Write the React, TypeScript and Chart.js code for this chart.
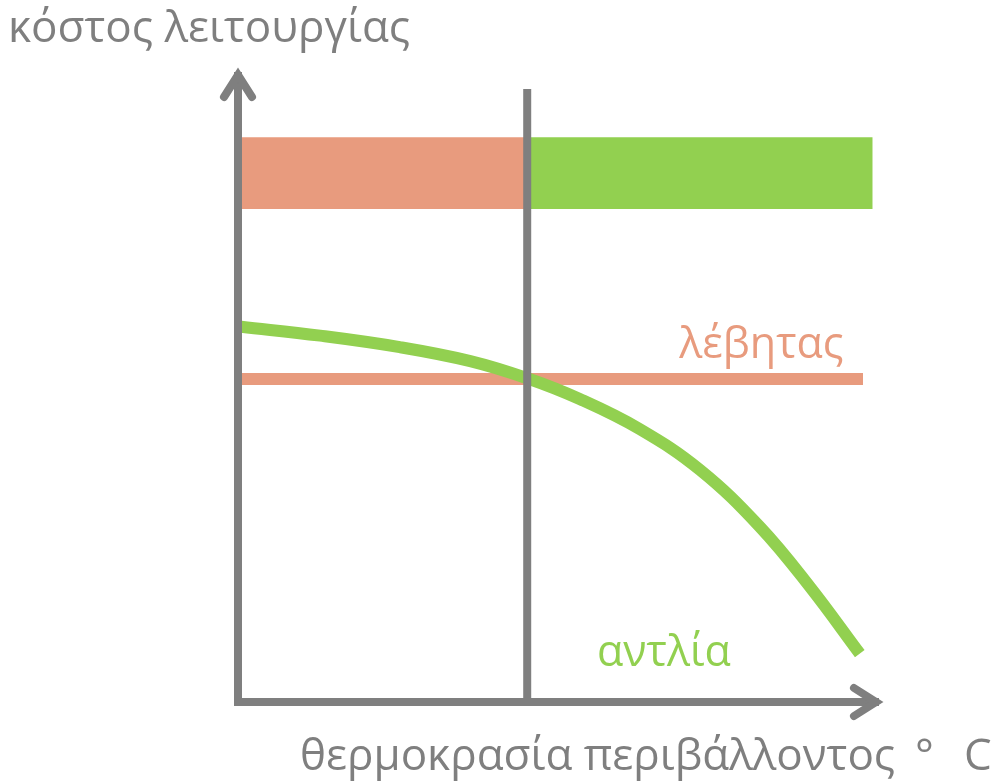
import React, { useEffect, useRef } from 'react';
import { Chart, registerables } from 'chart.js';

Chart.register(...registerables);

// ---- text ----
const yTitle = 'κόστος λειτουργίας';
const xTitleMain = 'θερμοκρασία περιβάλλοντος';
const xTitleDeg = '°';
const xTitleUnit = 'C';
const boilerLabel = 'λέβητας';
const pumpLabel = 'αντλία';

// ---- data (abstract units 0..100 on both axes) ----
const balanceTemp = 44.7;
const dividerTop = 96.4;
const bandHigh = 88.8;
const bandLow = 77.5;
const boilerBandX = [0.5, 44.7];
const pumpBandX = [44.7, 98.1];
const boilerLineX = [0.5, 96.6];
const boilerCost = 50.8;
const pumpTemps = [0.5, 12.7, 25.0, 35.9, 44.7, 52.9, 62.1, 71.4, 80.7, 88.4, 96.1];
const pumpCost = [59.0, 57.6, 55.8, 53.6, 50.9, 47.6, 42.9, 36.5, 27.5, 18.1, 7.6];

// ---- styles ----
const GRAY = '#7f7f7f';
const SALMON = '#e89b7e';
const GREEN = '#92d050';
const FONT = '"Open Sans", "DejaVu Sans", sans-serif';

const decorPlugin = {
  id: 'decor',
  afterDatasetsDraw(chart: any) {
    const { ctx, scales } = chart;
    const xs = scales.x;
    const ys = scales.y;
    const x0 = xs.getPixelForValue(0);
    const y0 = ys.getPixelForValue(0);
    const xEnd = xs.getPixelForValue(100);
    const yEnd = ys.getPixelForValue(100);
    ctx.save();
    ctx.strokeStyle = GRAY;
    ctx.lineWidth = 8;
    ctx.lineCap = 'butt';
    ctx.lineJoin = 'miter';
    ctx.beginPath();
    ctx.moveTo(x0, yEnd + 6);
    ctx.lineTo(x0, y0);
    ctx.lineTo(xEnd - 6, y0);
    ctx.stroke();
    // arrow heads
    ctx.lineCap = 'round';
    ctx.beginPath();
    ctx.moveTo(x0 - 14, yEnd + 31);
    ctx.lineTo(x0, yEnd + 9);
    ctx.lineTo(x0 + 14, yEnd + 31);
    ctx.stroke();
    ctx.beginPath();
    ctx.moveTo(xEnd - 31, y0 - 14);
    ctx.lineTo(xEnd - 9, y0);
    ctx.lineTo(xEnd - 31, y0 + 14);
    ctx.stroke();

    // titles
    ctx.fillStyle = GRAY;
    ctx.textBaseline = 'alphabetic';
    ctx.textAlign = 'left';
    ctx.font = `44px ${FONT}`;
    ctx.fillText(yTitle, 8, 42);
    ctx.fillText(xTitleMain, 300, 770);
    ctx.fillText(xTitleDeg, 915, 770);
    ctx.fillText(xTitleUnit, 964, 770);

    // series labels
    ctx.font = `43px ${FONT}`;
    ctx.fillStyle = SALMON;
    ctx.fillText(boilerLabel, xs.getPixelForValue(68.2), ys.getPixelForValue(boilerCost) - 21);
    ctx.fillStyle = GREEN;
    ctx.fillText(pumpLabel, xs.getPixelForValue(55.5), ys.getPixelForValue(5.7));
    ctx.restore();
  },
};

export default function App() {
  const ref = useRef<HTMLCanvasElement | null>(null);
  useEffect(() => {
    document.body.style.margin = '0';
    const canvas = ref.current!;
    const line = (pts: { x: number; y: number }[], color: string, width: number, extra: any = {}) => ({
      type: 'line',
      data: pts,
      borderColor: color,
      backgroundColor: color,
      borderWidth: width,
      pointRadius: 0,
      borderCapStyle: 'butt',
      fill: false,
      clip: false,
      ...extra,
    });
    const chart = new Chart(canvas, {
      type: 'line',
      data: {
        datasets: [
          // divider (on top)
          line([{ x: balanceTemp, y: 0 }, { x: balanceTemp, y: dividerTop }], GRAY, 8),
          // pump curve
          line(pumpTemps.map((t, i) => ({ x: t, y: pumpCost[i] })), GREEN, 12, { tension: 0.4 }),
          // boiler line
          line(boilerLineX.map((t) => ({ x: t, y: boilerCost })), SALMON, 12),
          // boiler band top/bottom
          line(boilerBandX.map((t) => ({ x: t, y: bandHigh })), SALMON, 0, { fill: '+1' }),
          line(boilerBandX.map((t) => ({ x: t, y: bandLow })), SALMON, 0),
          // pump band top/bottom
          line(pumpBandX.map((t) => ({ x: t, y: bandHigh })), GREEN, 0, { fill: '+1' }),
          line(pumpBandX.map((t) => ({ x: t, y: bandLow })), GREEN, 0),
        ] as any,
      },
      options: {
        responsive: false,
        animation: false,
        layout: { padding: { left: 238, right: 117, top: 66, bottom: 80 } },
        plugins: { legend: { display: false }, tooltip: { enabled: false }, title: { display: false } },
        scales: {
          x: { type: 'linear', min: 0, max: 100, display: false },
          y: { type: 'linear', min: 0, max: 100, display: false },
        },
      } as any,
      plugins: [decorPlugin],
    });
    return () => chart.destroy();
  }, []);
  return (
    <div style={{ position: 'absolute', left: 0, top: 0, width: 1002, height: 782, background: '#fff' }}>
      <canvas ref={ref} width={1002} height={782} style={{ display: 'block' }} />
    </div>
  );
}
